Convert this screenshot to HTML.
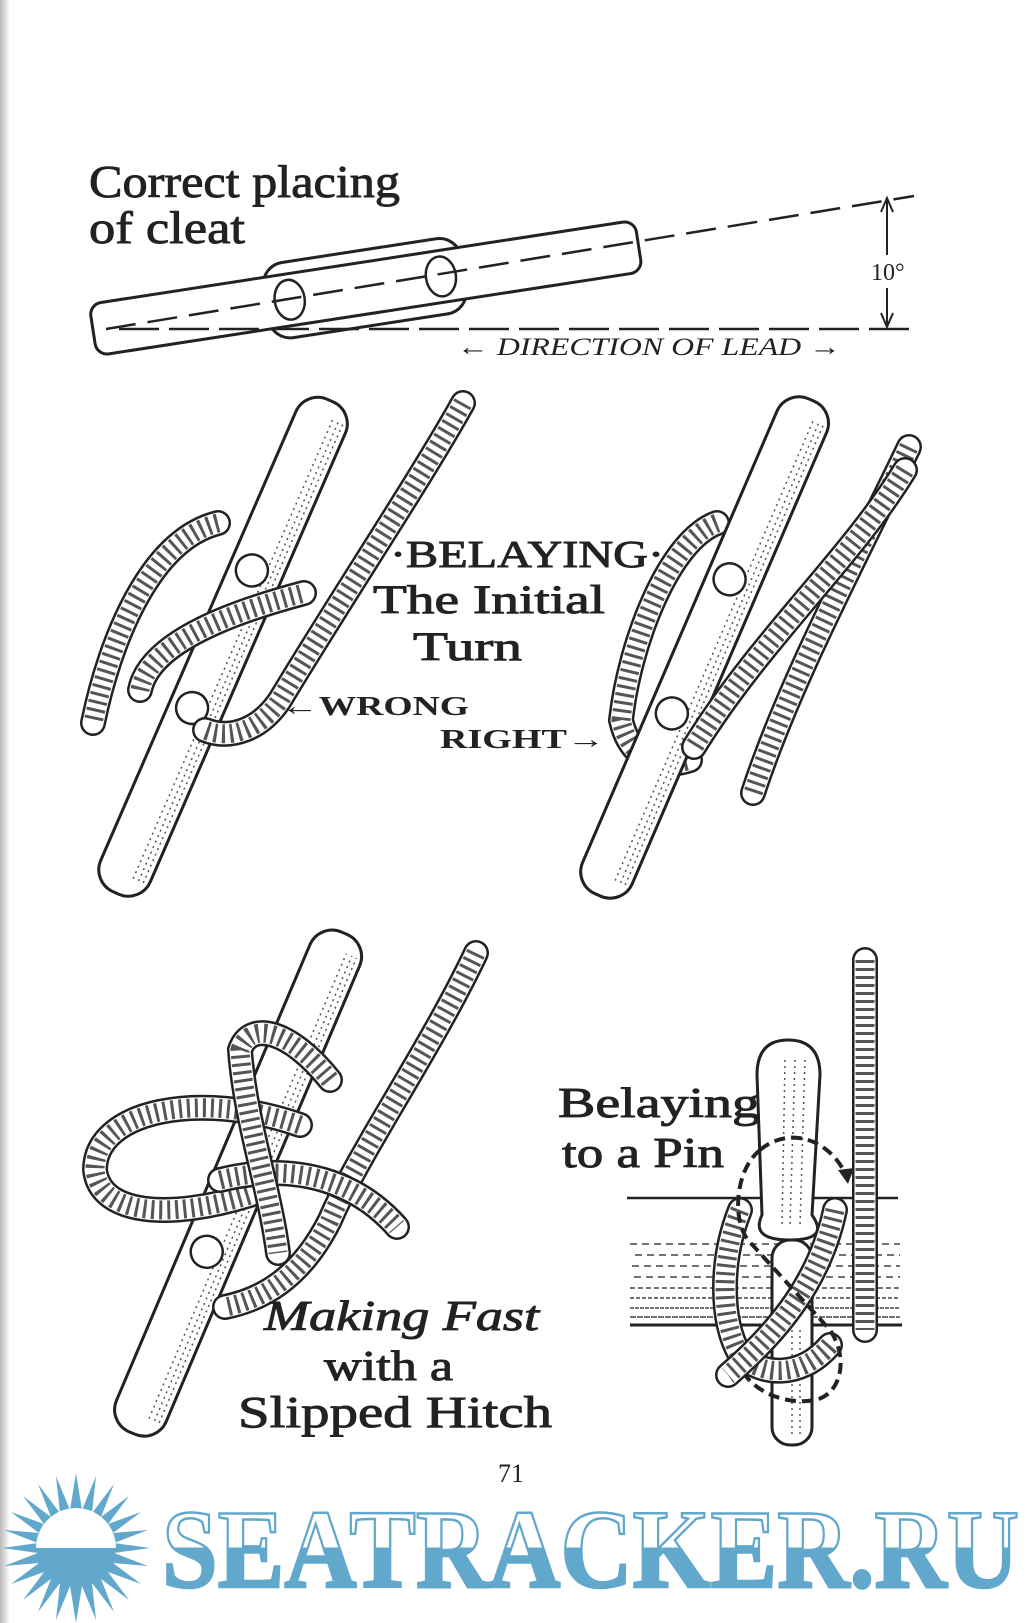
<!DOCTYPE html>
<html><head><meta charset="utf-8"><style>
html,body{margin:0;padding:0;background:#fff}
svg{display:block}
text{font-family:"Liberation Serif",serif;fill:#222}
.lb{stroke:#222;stroke-width:0.9}
.ro{fill:none;stroke:#222;stroke-width:26;stroke-linecap:round}
.rw{fill:none;stroke:#fff;stroke-width:21;stroke-linecap:round}
.rt{fill:none;stroke:#555;stroke-width:19;stroke-dasharray:3 5}
.cl{fill:#fff;stroke:#222;stroke-width:3}
.st{stroke:#555;stroke-width:1.5;stroke-dasharray:2 4;fill:none}
.hole{fill:#fff;stroke:#222;stroke-width:2.5}
</style></head><body>
<svg width="1026" height="1623" viewBox="0 0 1026 1623" xmlns="http://www.w3.org/2000/svg">
<defs>
<linearGradient id="edge" x1="0" x2="1"><stop offset="0" stop-color="#bbb"/><stop offset="1" stop-color="#fff"/></linearGradient>
<linearGradient id="wm" gradientUnits="userSpaceOnUse" x1="0" y1="1508" x2="0" y2="1587"><stop offset="0.5" stop-color="#fff"/><stop offset="0.5" stop-color="#62a8cc"/></linearGradient>
</defs>
<rect x="0" y="0" width="10" height="1623" fill="url(#edge)"/>

<!-- Top cleat -->
<text class="lb" x="89" y="197" font-size="46" textLength="311" lengthAdjust="spacingAndGlyphs">Correct placing</text>
<text class="lb" x="89" y="243" font-size="46" textLength="156" lengthAdjust="spacingAndGlyphs">of cleat</text>
<g transform="translate(93,330) rotate(-8.75)">
<rect x="175" y="-38" width="200" height="76" rx="22" class="cl"/>
<rect x="0" y="-26" width="552" height="52" rx="12" class="cl"/>
<ellipse cx="199" cy="0" rx="15" ry="20" class="hole"/>
<ellipse cx="352" cy="0" rx="15" ry="20" class="hole"/>
</g>
<line x1="106" y1="329" x2="914" y2="196" stroke="#222" stroke-width="2.5" stroke-dasharray="30 12"/>
<line x1="119" y1="329" x2="914" y2="329" stroke="#222" stroke-width="2.5" stroke-dasharray="40 10"/>
<line x1="887" y1="200" x2="887" y2="255" stroke="#222" stroke-width="2"/>
<line x1="887" y1="288" x2="887" y2="325" stroke="#222" stroke-width="2"/>
<path d="M881 212 L887 198 L893 212 M881 313 L887 327 L893 313" fill="none" stroke="#222" stroke-width="2"/>
<text x="871" y="280" font-size="24">10°</text>
<text x="457" y="355" font-size="25" font-style="italic" textLength="384" lengthAdjust="spacingAndGlyphs">← DIRECTION OF LEAD →</text>

<!-- Middle left cleat -->
<path d="M218 523 C150 540 110 640 93 723" class="ro"/><path d="M218 523 C150 540 110 640 93 723" class="rw"/><path d="M218 523 C150 540 110 640 93 723" class="rt"/>
<g transform="translate(116,893) rotate(-66.5)">
<rect x="0" y="-27" width="537" height="54" rx="24" class="cl"/>
<line x1="20" y1="10" x2="520" y2="10" class="st"/><line x1="20" y1="16" x2="520" y2="16" class="st"/><line x1="20" y1="21" x2="520" y2="21" class="st"/>
<circle cx="350" cy="-4" r="16" class="hole"/><circle cx="200" cy="-4" r="16" class="hole"/>
</g>
<path d="M463 403 C420 480 340 600 280 700 C260 730 230 740 205 730" class="ro"/><path d="M463 403 C420 480 340 600 280 700 C260 730 230 740 205 730" class="rw"/><path d="M463 403 C420 480 340 600 280 700 C260 730 230 740 205 730" class="rt"/>
<path d="M140 690 C150 640 240 610 304 593" class="ro"/><path d="M140 690 C150 640 240 610 304 593" class="rw"/><path d="M140 690 C150 640 240 610 304 593" class="rt"/>

<!-- Middle right cleat -->
<path d="M717 523 C670 540 630 640 621 720 C630 760 660 770 690 760" class="ro"/><path d="M717 523 C670 540 630 640 621 720 C630 760 660 770 690 760" class="rw"/><path d="M717 523 C670 540 630 640 621 720 C630 760 660 770 690 760" class="rt"/>
<g transform="translate(598,895) rotate(-66.7)">
<rect x="0" y="-27" width="539" height="54" rx="24" class="cl"/>
<line x1="20" y1="10" x2="520" y2="10" class="st"/><line x1="20" y1="16" x2="520" y2="16" class="st"/><line x1="20" y1="21" x2="520" y2="21" class="st"/>
<circle cx="342" cy="-4" r="16" class="hole"/><circle cx="196" cy="-4" r="16" class="hole"/>
</g>
<path d="M909 447 C860 550 790 680 753 793" class="ro"/><path d="M909 447 C860 550 790 680 753 793" class="rw"/><path d="M909 447 C860 550 790 680 753 793" class="rt"/>
<path d="M905 470 C850 560 760 640 694 747" class="ro"/><path d="M905 470 C850 560 760 640 694 747" class="rw"/><path d="M905 470 C850 560 760 640 694 747" class="rt"/>

<text class="lb" x="390" y="567" font-size="38" textLength="274" lengthAdjust="spacingAndGlyphs">·BELAYING·</text>
<text class="lb" x="373" y="613" font-size="40" textLength="232" lengthAdjust="spacingAndGlyphs">The Initial</text>
<text class="lb" x="413" y="660" font-size="40" textLength="109" lengthAdjust="spacingAndGlyphs">Turn</text>
<text x="281" y="715" font-size="27" font-weight="bold" textLength="188" lengthAdjust="spacingAndGlyphs">←WRONG</text>
<text x="440" y="748" font-size="27" font-weight="bold" textLength="165" lengthAdjust="spacingAndGlyphs">RIGHT→</text>

<!-- Bottom cleat -->
<g transform="translate(132,1433) rotate(-67)">
<rect x="0" y="-27" width="543" height="54" rx="24" class="cl"/>
<line x1="20" y1="10" x2="525" y2="10" class="st"/><line x1="20" y1="16" x2="525" y2="16" class="st"/><line x1="20" y1="21" x2="525" y2="21" class="st"/>
<circle cx="196" cy="-2" r="16" class="hole"/>
</g>
<path d="M476 953 C430 1050 360 1150 330 1220 C300 1280 260 1300 225 1307" class="ro"/><path d="M476 953 C430 1050 360 1150 330 1220 C300 1280 260 1300 225 1307" class="rw"/><path d="M476 953 C430 1050 360 1150 330 1220 C300 1280 260 1300 225 1307" class="rt"/>
<path d="M300 1125 C200 1090 95 1110 95 1170 C100 1215 170 1220 250 1195" class="ro"/><path d="M300 1125 C200 1090 95 1110 95 1170 C100 1215 170 1220 250 1195" class="rw"/><path d="M300 1125 C200 1090 95 1110 95 1170 C100 1215 170 1220 250 1195" class="rt"/>
<path d="M220 1180 C300 1160 360 1185 397 1227" class="ro"/><path d="M220 1180 C300 1160 360 1185 397 1227" class="rw"/><path d="M220 1180 C300 1160 360 1185 397 1227" class="rt"/>
<path d="M330 1080 C290 1030 250 1020 240 1050 C245 1120 270 1190 278 1253" class="ro"/><path d="M330 1080 C290 1030 250 1020 240 1050 C245 1120 270 1190 278 1253" class="rw"/><path d="M330 1080 C290 1030 250 1020 240 1050 C245 1120 270 1190 278 1253" class="rt"/>

<text class="lb" x="264" y="1330" font-size="42" font-style="italic" textLength="275" lengthAdjust="spacingAndGlyphs">Making Fast</text>
<text class="lb" x="324" y="1380" font-size="42" textLength="129" lengthAdjust="spacingAndGlyphs">with a</text>
<text class="lb" x="238" y="1427" font-size="44" textLength="314" lengthAdjust="spacingAndGlyphs">Slipped Hitch</text>

<!-- Pin -->
<text class="lb" x="558" y="1117" font-size="42" textLength="202" lengthAdjust="spacingAndGlyphs">Belaying</text>
<text class="lb" x="562" y="1167" font-size="42" textLength="162" lengthAdjust="spacingAndGlyphs">to a Pin</text>
<line x1="627" y1="1198" x2="898" y2="1198" stroke="#222" stroke-width="2.5"/>
<g stroke="#444" stroke-width="1.6" stroke-dasharray="7 5">
<line x1="630" y1="1244" x2="900" y2="1244"/><line x1="635" y1="1255" x2="900" y2="1255"/><line x1="632" y1="1266" x2="900" y2="1266"/><line x1="634" y1="1277" x2="900" y2="1277"/><line x1="630" y1="1288" x2="900" y2="1288" stroke-dasharray="5 3"/><line x1="630" y1="1298" x2="900" y2="1298" stroke-dasharray="4 2"/><line x1="630" y1="1308" x2="900" y2="1308" stroke-dasharray="4 1"/><line x1="630" y1="1317" x2="900" y2="1317" stroke-dasharray="6 1"/>
</g>
<line x1="630" y1="1325" x2="902" y2="1325" stroke="#222" stroke-width="3"/>
<rect x="772" y="1240" width="40" height="205" rx="18" class="cl"/>
<line x1="792" y1="1330" x2="792" y2="1435" class="st"/><line x1="800" y1="1330" x2="800" y2="1435" class="st"/>
<path d="M757 1075 Q757 1040 788 1040 Q820 1040 820 1075 L812 1215 Q830 1240 790 1240 Q750 1240 762 1215 Z" class="cl"/>
<line x1="805" y1="1060" x2="800" y2="1225" class="st"/><line x1="795" y1="1060" x2="790" y2="1225" class="st"/><line x1="785" y1="1060" x2="782" y2="1225" class="st"/>
<path d="M865 960 L865 1330" class="ro"/><path d="M865 960 L865 1330" class="rw"/><path d="M865 960 L865 1330" class="rt"/>
<path d="M740 1210 C720 1260 720 1320 740 1355 C760 1375 800 1380 830 1345" class="ro"/><path d="M740 1210 C720 1260 720 1320 740 1355 C760 1375 800 1380 830 1345" class="rw"/><path d="M740 1210 C720 1260 720 1320 740 1355 C760 1375 800 1380 830 1345" class="rt"/>
<path d="M835 1210 C820 1280 780 1330 728 1375" class="ro"/><path d="M835 1210 C820 1280 780 1330 728 1375" class="rw"/><path d="M835 1210 C820 1280 780 1330 728 1375" class="rt"/>
<path d="M760 1150 C735 1170 732 1220 748 1240 L830 1330 C850 1360 840 1395 815 1400 C790 1405 760 1395 745 1375 M760 1150 C790 1125 830 1140 846 1175" fill="none" stroke="#222" stroke-width="4" stroke-dasharray="11 6"/>
<path d="M838 1170 L848 1184 L854 1168 Z" fill="#222"/>

<text x="498" y="1482" font-size="26">71</text>

<!-- Watermark -->
<g fill="#62a8cc">
<path d="M76 1473 L82 1510 L96 1476 L92 1513 L114 1484 L101 1517 L129 1496 L108 1524 L141 1512 L113 1533 L148 1530 L114 1543 L150 1548 L114 1553 L148 1566 L113 1563 L141 1584 L108 1572 L129 1600 L101 1579 L114 1612 L92 1583 L96 1620 L82 1586 L76 1623 L70 1586 L56 1620 L60 1583 L38 1612 L51 1579 L23 1600 L44 1572 L11 1584 L39 1563 L4 1566 L38 1553 L2 1548 L38 1543 L4 1530 L39 1533 L11 1512 L44 1524 L23 1496 L51 1517 L38 1484 L60 1513 L56 1476 L70 1510 Z"/>
</g>
<path d="M36 1548 A40 40 0 0 1 116 1548 Z" fill="#fff"/>
<text x="162" y="1587" font-size="112" font-weight="bold" textLength="857" lengthAdjust="spacingAndGlyphs" style="fill:url(#wm);stroke:#62a8cc;stroke-width:2.5">SEATRACKER.RU</text>
</svg>
</body></html>
